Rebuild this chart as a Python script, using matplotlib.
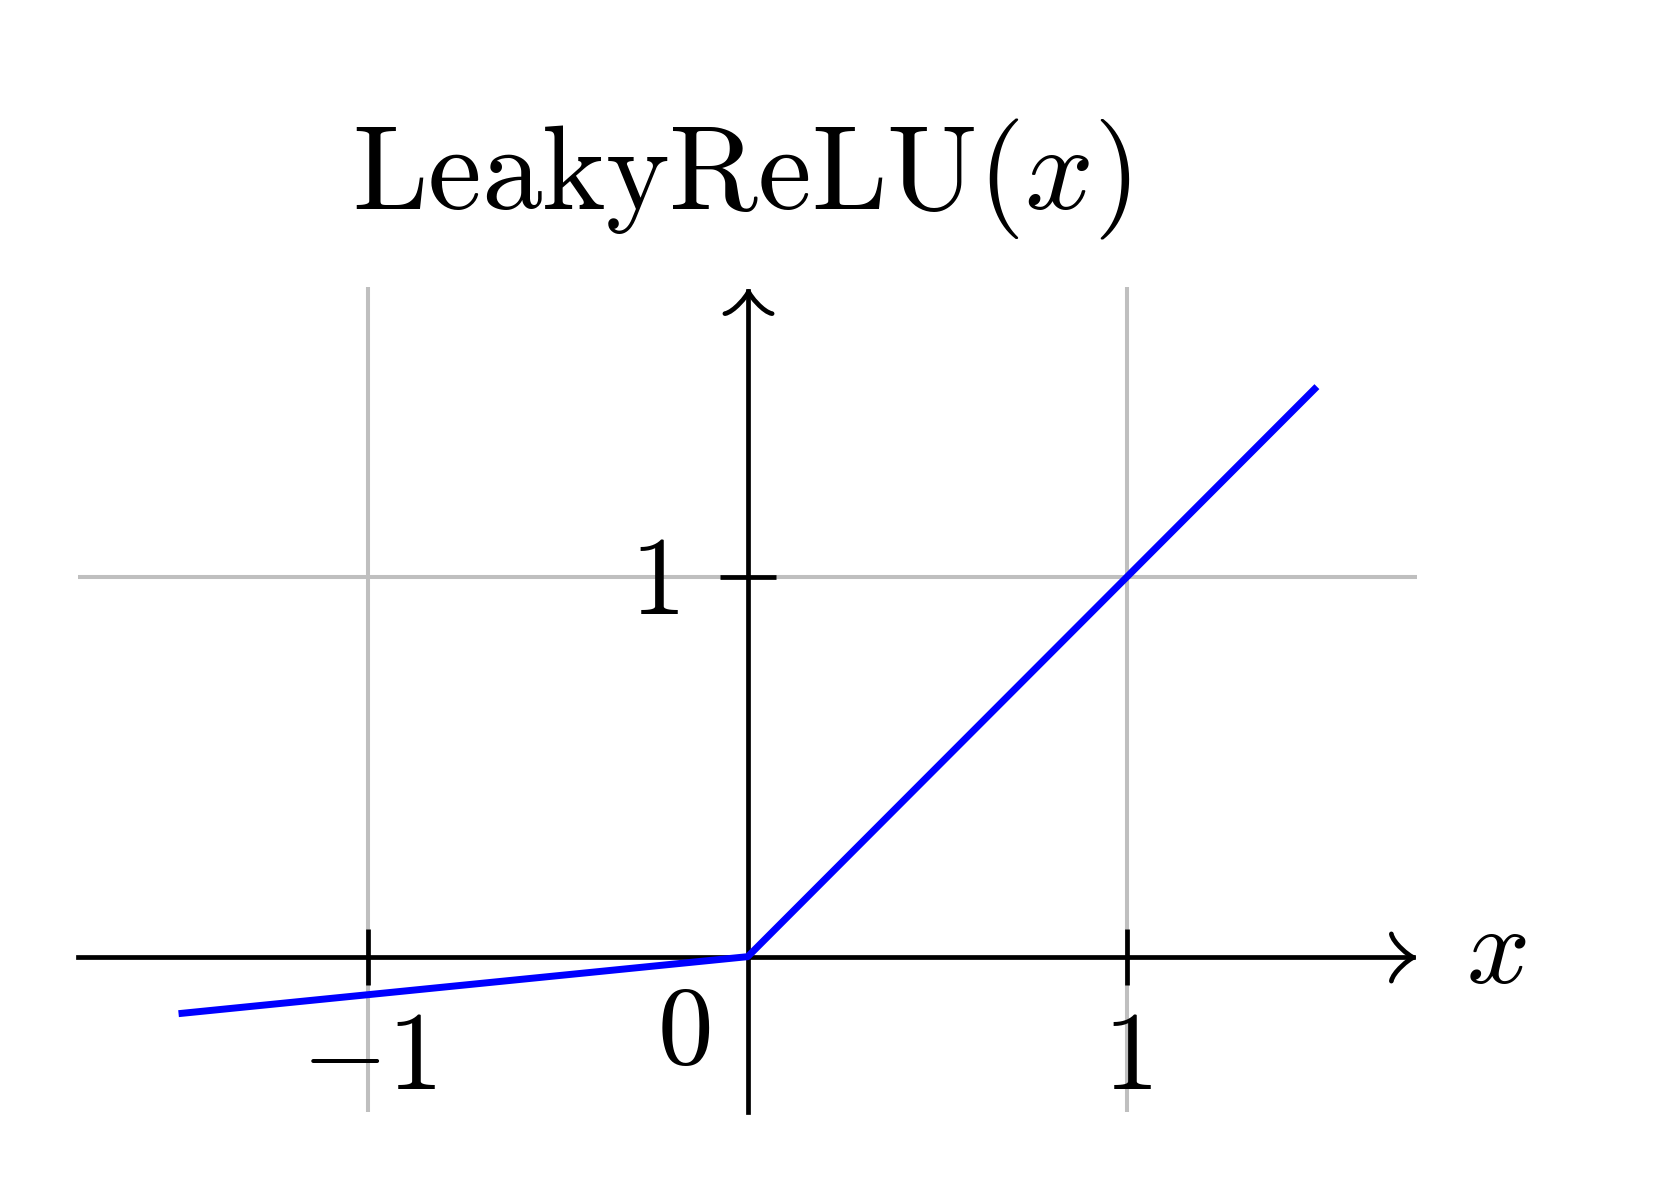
import numpy as np
import matplotlib.pyplot as plt
from matplotlib.path import Path
from matplotlib.markers import MarkerStyle
from matplotlib.transforms import ScaledTranslation

plt.rcParams['mathtext.fontset'] = 'cm'
plt.rcParams['font.family'] = ['DejaVu Serif']

# leaky relu
x_pts = [-1.5, 0.0, 1.5]
y_pts = [-0.15, 0.0, 1.5]

xtick_vals = [-1, 1]
xtick_text = ['$-1$', '$1$']
ytick_vals = [1]
ytick_text = ['$1$']

title = r'$\mathrm{LeakyReLU}(x)$'

W, H = 1656, 1192
fig = plt.figure(figsize=(W / 100, H / 100), dpi=100)

# axes box in pixels (left, right, top, bottom)
left, right, top, bottom = 78, 1416.7, 286.7, 1111.7
ax = fig.add_axes([left / W, 1 - bottom / H, (right - left) / W, (bottom - top) / H])

xmin, xmax = -1.765, 1.763
ymin, ymax = -0.408, 1.763
ax.set_xlim(xmin, xmax)
ax.set_ylim(ymin, ymax)

for s in ax.spines.values():
    s.set_color('none')
ax.spines['bottom'].set_position(('data', 0))
ax.spines['left'].set_position(('data', 0))

ax.set_xticks(xtick_vals, xtick_text)
ax.set_yticks(ytick_vals, ytick_text)
ax.tick_params(axis='both', direction='inout', length=41, width=3.4,
               labelsize=80, color='black')
ax.tick_params(axis='x', pad=14)
ax.tick_params(axis='y', pad=29)
# nudge the y label up a bit
for lab in ax.get_yticklabels():
    lab.set_transform(lab.get_transform() + ScaledTranslation(0, 5 / 100, fig.dpi_scale_trans))

ax.set_axisbelow(True)
ax.grid(True, color='#bfbfbf', lw=2.9)

# tex style "to" arrow tip, pointing right, tip at origin
codes = [Path.MOVETO] + [Path.CURVE4] * 6
tip_r = [(-3.75, 4), (-3.5, 2.5), (-0.75, 0.25), (0, 0),
         (-0.75, -0.25), (-3.5, -2.5), (-3.75, -4)]
tip_u = [(-y, x) for x, y in tip_r]
head_r = MarkerStyle(Path(tip_r, codes), fillstyle='none', capstyle='round', joinstyle='round')
head_u = MarkerStyle(Path(tip_u, codes), fillstyle='none', capstyle='round', joinstyle='round')

# pull the arrow ends in a few px so the round tip lands on the box edge
dx = 4 / 379.4
ax.plot([xmin, xmax - dx], [0, 0], color='black', lw=3.4, clip_on=False, zorder=3)
ax.plot([0, 0], [ymin, ymax - dx], color='black', lw=3.4, clip_on=False, zorder=3)
ax.plot([xmax - dx], [0], marker=head_r, ms=34, mec='black', mew=3.4, clip_on=False, zorder=3)
ax.plot([0], [ymax - dx], marker=head_u, ms=34, mec='black', mew=3.4, clip_on=False, zorder=3)

ax.plot(x_pts, y_pts, color='#0000ff', lw=5, zorder=5,
        solid_joinstyle='round', solid_capstyle='butt')

ax.annotate('$0$', xy=(0, 0), xytext=(-46, -55), textcoords='offset points',
            ha='center', va='center', fontsize=80)
ax.annotate('$x$', xy=(xmax, 0), xytext=(57, 3), textcoords='offset points',
            ha='center', va='center', fontsize=80, annotation_clip=False)

fig.text((left + right) / 2 / W - 6 / W, 1 - 209 / H, title, ha='center',
         va='baseline', fontsize=87)

fig.savefig('out.png', dpi=100)
